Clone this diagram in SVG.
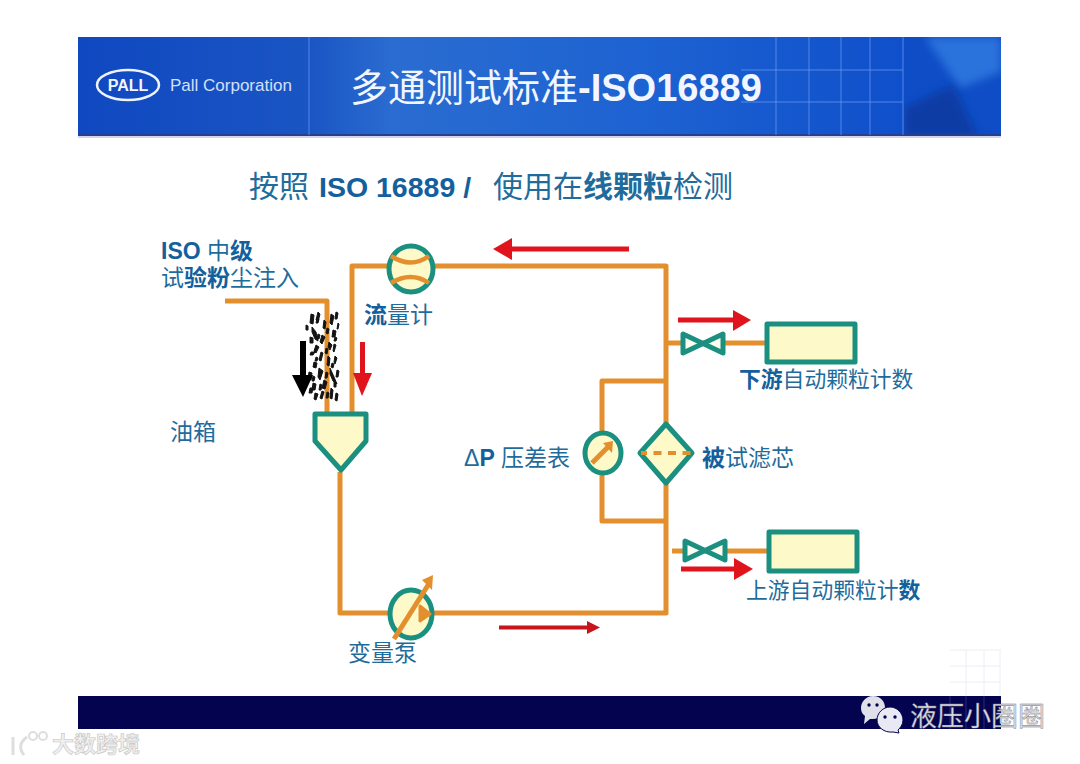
<svg xmlns="http://www.w3.org/2000/svg" width="1080" height="764" viewBox="0 0 1080 764">
<style>
.pipe{fill:none;stroke:#e38f2e;stroke-width:5;stroke-linejoin:round}
.body{fill:#fdf9c8;stroke:#1b9080;stroke-width:5;stroke-linejoin:round}
.red{fill:none;stroke:#e0141c;stroke-width:5}
.t{font-family:"Liberation Sans","Noto Sans CJK SC",sans-serif;font-size:23px;fill:#1f6c9c}
.s{font-size:21.8px}
.b{font-weight:bold;fill:#14609c}
.hl{stroke:#6f9df0;stroke-width:1;fill:none;opacity:.7}
.spk{fill:#141414;stroke:#141414;stroke-width:1;stroke-linejoin:round}
</style>
<defs>
<linearGradient id="hg" x1="0" y1="0" x2="1" y2="0"><stop offset="0" stop-color="#0f48c0"/><stop offset=".25" stop-color="#1a55c4"/><stop offset=".34" stop-color="#2a6cd0"/><stop offset=".62" stop-color="#1d62d2"/><stop offset=".9" stop-color="#0f4fcb"/><stop offset="1" stop-color="#1b60d2"/></linearGradient>
<filter id="soft" x="-20%" y="-20%" width="140%" height="140%"><feGaussianBlur stdDeviation="4"/></filter>
<clipPath id="corner"><rect x="904" y="37" width="97" height="97"/></clipPath>
</defs>
<rect width="1080" height="764" fill="#fff"/>

<g id="header">
<rect x="78" y="37" width="923" height="99" fill="url(#hg)"/>
<rect x="78" y="134" width="923" height="2" fill="#2a3f8c"/>
<rect x="78" y="136" width="923" height="2" fill="#d3d5ea"/>
<path d="M309 37V135M870 37V135M903 37V135M809 37V135M841 37V135M776 37V135M741 70H903M741 102H903" class="hl"/>
<rect x="904" y="37" width="97" height="97" fill="#0f4dc6"/>
<g clip-path="url(#corner)">
<path d="M925 37H1001V72L960 88Z" fill="#2a72dc" filter="url(#soft)"/>
<path d="M904 108L953 85L978 136H904Z" fill="#0c3aa2" filter="url(#soft)" opacity=".9"/>
</g>
<ellipse cx="128" cy="85" rx="31" ry="15" fill="none" stroke="#eef3ff" stroke-width="2.5"/>
<text x="128" y="91" text-anchor="middle" font-family="Liberation Sans,sans-serif" font-size="16" font-weight="bold" fill="#f2f5ff">PALL</text>
<text x="170" y="91" font-family="Liberation Sans,sans-serif" font-size="17" fill="#d5e0f8">Pall Corporation</text>
<text x="350" y="101" font-family="Liberation Sans,'Noto Sans CJK SC',sans-serif" font-size="38" fill="#f2f6ff"><tspan>多通测试标准</tspan><tspan font-weight="bold">-ISO16889</tspan></text>
</g>

<text id="subtitle" y="197" font-family="Liberation Sans,'Noto Sans CJK SC',sans-serif" font-size="30" fill="#1f6c9c"><tspan x="249">按照</tspan><tspan x="319" font-size="28.5" font-weight="bold" fill="#14609c">ISO 16889 /</tspan><tspan x="493">使用在</tspan><tspan font-weight="bold">线颗粒</tspan><tspan>检测</tspan></text>

<g id="connectors">
<path class="pipe" d="M352 412V266H666V613H340V472"/>
<path class="pipe" d="M225 301H327V412"/>
<path class="pipe" d="M666 381H602V521H666"/>
<path class="pipe" d="M666 343H766"/>
<path class="pipe" d="M672 551H768"/>
</g>

<g id="dust">
<path class="spk" d="M311 314l3 1-1 9-3-1zM318 312l2 2-2 8-2-2zM331 314l3 2-2 9-2-2zM336 312l2 1-1 6-2 0zM312 327l4 5 2 9-3-2-3-7zM324 320l2 2-1 7-2-1zM333 330l3 1-1 6-3 0zM338 323l1 1-1 5-1 0zM310 337l3 1 0 5-3 0zM322 335l3 2-3 7-2-2zM329 342l3 3-2 5-2-3zM316 345l3 2-3 6-2-2zM334 344l2 1-2 7-1-1zM311 352l4 0-2 3-3 0zM321 352l2 1-2 8-2-1zM328 356l2 2-1 8-2-1zM335 356l2 2-2 6-1-2zM314 362l3 1-1 5-3-1zM319 368l4 3-3 9-2-3zM309 372l3 1-1 7-3-1zM330 368l4 9 3 7-4-3-3-7zM324 380l3 2-2 7-3-1zM313 383l3 1-1 6-3 0zM337 370l2 1-1 6-2 0zM315 393l3 1-2 6-2-1zM322 391l2 1-2 7-2-1zM331 388l2 2-1 9-2-1zM336 393l2 1-1 7-2-1zM310 388l3 0-1 5-3 0zM317 318l2 1-1 4-2 0zM327 328l2 1-1 5-2-1zM306 325l2 1 0 4-2 0zM318 334l2 1-1 4-2 0zM335 337l2 1-1 3-2 0zM326 348l2 1-1 5-2-1zM316 357l2 1-1 3-2 0zM332 363l2 1-1 4-2-1zM313 376l2 1-1 4-2 0zM326 372l2 1-1 5-2 0zM320 384l2 1-1 5-2 0zM327 392l2 1-1 5-2 0zM334 382l2 1 0 4-2 0z"/>
<rect x="300" y="341" width="6" height="35" fill="#000"/>
<path d="M292 375H313L303 397Z" fill="#000"/>
</g>
<g id="arrows">
<path class="red" d="M629 249H505"/><path d="M512 238L493 249L512 260Z" fill="#e0141c"/>
<rect x="360" y="342" width="5" height="32" fill="#e0141c"/><path d="M353 373H372L362 396Z" fill="#e0141c"/>
<path class="red" d="M678 320H735"/><path d="M733 310L751 320L733 331Z" fill="#e0141c"/>
<path class="red" d="M681 569H736"/><path d="M734 558L753 569L734 580Z" fill="#e0141c"/>
<path d="M499 627.5H590" stroke="#c8141c" stroke-width="4" fill="none"/><path d="M587 621L600 627.5L587 634Z" fill="#c8141c"/>
</g>

<g id="tank"><path class="body" d="M315 414H366V441L341 470L315 441Z"/></g>
<g id="flowmeter">
<ellipse cx="411" cy="269" rx="22" ry="23" class="body"/>
<path d="M391 256Q411 269 429 256M391 283Q411 271 429 283" fill="none" stroke="#e38f2e" stroke-width="4.5"/>
</g>
<g id="pump">
<ellipse cx="411" cy="614" rx="21" ry="24" class="body"/>
<path d="M420 606L430 614L420 621Z" fill="#e38f2e" stroke="#e38f2e" stroke-width="3" stroke-linejoin="round"/>
<path d="M394 639L430 582" stroke="#e38f2e" stroke-width="5" fill="none"/>
<path d="M422 580L433 575L432 590Z" fill="#e38f2e"/>
</g>
<g id="gauge">
<ellipse cx="603" cy="453" rx="18" ry="20" class="body"/>
<path d="M592 463L608 447" stroke="#e38f2e" stroke-width="5" fill="none"/><path d="M603 443L613 441L612 453Z" fill="#e38f2e"/>
</g>
<g id="filter">
<path class="body" d="M666 424L692 453L666 483L640 453Z"/>
<path d="M641 453H691" stroke="#e38f2e" stroke-width="4" stroke-dasharray="6 6.5 8 6.5 8 6.5 8" fill="none"/>
</g>
<g id="valve-downstream"><path class="body" d="M683 334V353L723 334V353Z" style="fill:#fdfdf0"/></g>
<g id="valve-upstream"><path class="body" d="M685 541V560L725 541V560Z" style="fill:#fdfdf0"/></g>
<g id="counter-downstream"><rect x="767" y="324" width="88" height="38" class="body"/></g>
<g id="counter-upstream"><rect x="769" y="532" width="88" height="39" class="body"/></g>

<g id="labels">
<text class="t" x="161" y="259"><tspan class="b">ISO</tspan> 中<tspan class="b">级</tspan></text>
<text class="t" x="161" y="286">试<tspan class="b">验粉</tspan>尘注入</text>
<text class="t" x="170" y="440">油箱</text>
<text class="t" x="364" y="323"><tspan class="b">流</tspan>量计</text>
<text class="t" x="348" y="661">变量泵</text>
<text class="t" x="464" y="466">Δ<tspan class="b">P</tspan> 压差表</text>
<text class="t" x="702" y="466"><tspan class="b">被</tspan>试滤芯</text>
<text class="t s" x="739" y="387"><tspan class="b">下游</tspan>自动颗粒计数</text>
<text class="t s" x="746" y="598">上游自动颗粒计<tspan class="b">数</tspan></text>
</g>

<g id="footer">
<path d="M950 650H1001M950 666H1001M950 682H1001M966 650V696M984 650V696M1000 650V696" stroke="#eceef5" stroke-width="1" fill="none"/>
<rect x="78" y="696" width="923" height="33" fill="#03034f"/>
<path d="M950 696V729M966 696V729M984 696V729" stroke="#2a2a78" fill="none"/>
</g>
<g id="watermark">
<path d="M873 696C881 696 885 702 885 708C885 714 880 719 873 719L870 719L864 724L865 716C862 714 861 711 861 708C861 702 866 696 873 696Z" fill="#dfe0ea"/>
<path d="M890 707C897 707 903 713 903 720C903 725 900 728 898 730L899 733L893 732C884 733 877 727 877 720C877 713 883 707 890 707Z" fill="#e8e9f2" stroke="#03034f"/>
<circle cx="869" cy="705" r="1.7" fill="#03034f"/><circle cx="877" cy="705" r="1.7" fill="#03034f"/>
<circle cx="885" cy="717" r="1.7" fill="#03034f"/><circle cx="895" cy="717" r="1.7" fill="#03034f"/>
<text x="910" y="726" font-family="'Noto Sans CJK SC',sans-serif" font-size="27" fill="#dcdde8" stroke="#777" stroke-width=".4">液压小圈圈</text>
<text x="52" y="752" font-family="'Noto Sans CJK SC',sans-serif" font-size="22" font-weight="bold" fill="#f0f0f0" stroke="#c4c4c4" stroke-width=".6">大数跨境</text>
<path d="M13 737V755M27 737Q16 745 24 755" fill="none" stroke="#dedede" stroke-width="3"/>
<circle cx="33" cy="736" r="4" fill="none" stroke="#dedede" stroke-width="2"/><circle cx="43" cy="736" r="4" fill="none" stroke="#dedede" stroke-width="2"/>
</g>
</svg>
